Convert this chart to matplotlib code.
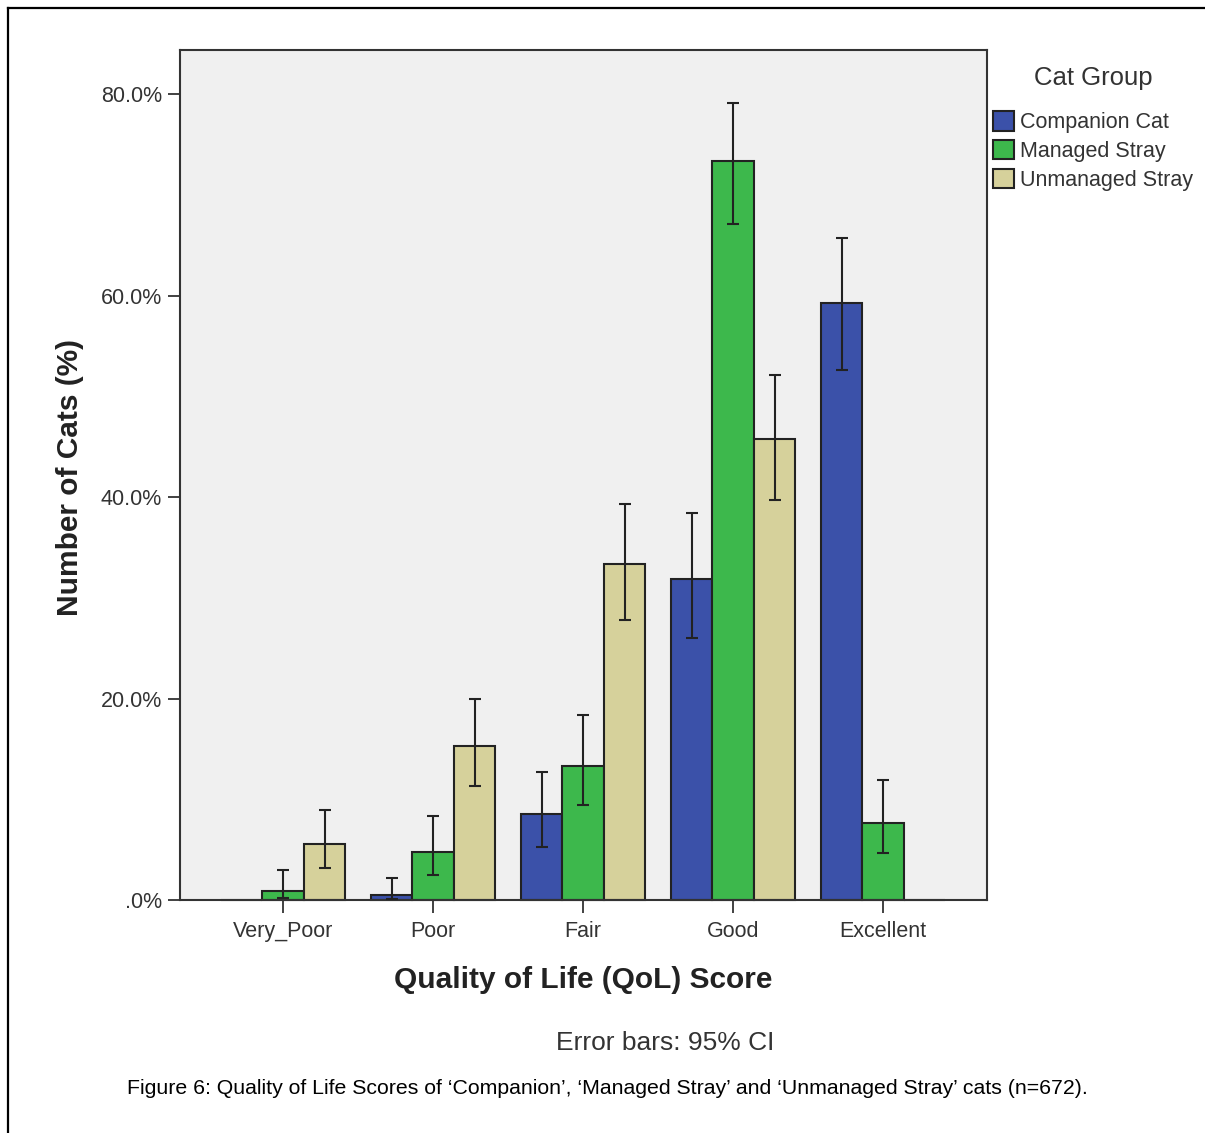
import numpy as np
import matplotlib
matplotlib.use('Agg')
import matplotlib.pyplot as plt
from matplotlib.lines import Line2D
from matplotlib.ticker import FuncFormatter

plt.rcParams['font.family'] = ['Liberation Sans', 'DejaVu Sans']

# data
categories = ['Very_Poor', 'Poor', 'Fair', 'Good', 'Excellent']
groups = ['Companion Cat', 'Managed Stray', 'Unmanaged Stray']

companion = [0.0, 0.5, 8.5, 31.9, 59.3]
companion_lo = [0.0, 0.1, 5.3, 26.0, 52.6]
companion_hi = [0.0, 2.2, 12.7, 38.4, 65.7]

managed = [0.9, 4.8, 13.3, 73.4, 7.6]
managed_lo = [0.2, 2.5, 9.4, 67.1, 4.7]
managed_hi = [3.0, 8.3, 18.4, 79.1, 11.9]

unmanaged = [5.6, 15.3, 33.4, 45.8, 0.0]
unmanaged_lo = [3.2, 11.3, 27.8, 39.7, 0.0]
unmanaged_hi = [8.9, 20.0, 39.3, 52.1, 0.0]

colors = ['#3B51A9', '#3DB84C', '#D6D19B']


def pct(v, pos):
    s = '{:.1f}%'.format(v)
    if s.startswith('0'):
        s = s[1:]
    return s


def main():
    W, H = 1205, 1133
    fig = plt.figure(figsize=(W / 100, H / 100), dpi=100)
    fig.patch.set_facecolor('white')

    # axes box in pixels: x 180..987, y 50..900
    ax = fig.add_axes([180 / W, 1 - 900 / H, 807 / W, 850 / H])
    ax.set_facecolor('#F0F0F0')

    x = np.arange(len(categories))
    w = 0.277
    series = [(companion, companion_lo, companion_hi),
              (managed, managed_lo, managed_hi),
              (unmanaged, unmanaged_lo, unmanaged_hi)]
    for i, (vals, lo, hi) in enumerate(series):
        xs = x + (i - 1) * w
        ax.bar(xs, vals, width=w, color=colors[i], edgecolor='#222222',
               linewidth=1.5, label=groups[i], zorder=2, clip_on=False)
        vals = np.array(vals)
        lo = np.array(lo)
        hi = np.array(hi)
        keep = hi > 0
        ax.errorbar(xs[keep], vals[keep],
                    yerr=[vals[keep] - lo[keep], hi[keep] - vals[keep]],
                    fmt='none', ecolor='#222222', elinewidth=1.5,
                    capsize=4, capthick=1.5, zorder=3)

    ax.set_xlim(-0.687, 4.693)
    ax.set_ylim(0, 84.4)
    ax.set_xticks(x)
    ax.set_xticklabels(categories)
    ax.set_yticks([0, 20, 40, 60, 80])
    ax.yaxis.set_major_formatter(FuncFormatter(pct))
    ax.tick_params(axis='both', labelsize=15.5, colors='#333333',
                   length=9, width=1.3, pad=4)
    ax.tick_params(axis='x', pad=6)
    for t in ax.get_xticklabels() + ax.get_yticklabels():
        t.set_color('#333333')
    for sp in ax.spines.values():
        sp.set_color('#333333')
        sp.set_linewidth(1.5)

    ax.set_xlabel('Quality of Life (QoL) Score', fontsize=21.5,
                  fontweight='bold', color='#222222')
    ax.xaxis.set_label_coords((583 - 180) / 807, (900 - 966) / 850)
    ax.set_ylabel('Number of Cats (%)', fontsize=21.5,
                  fontweight='bold', color='#222222')
    ax.yaxis.set_label_coords((84 - 180) / 807, (900 - 477) / 850)

    leg = ax.legend(loc='upper left', bbox_to_anchor=(989 / W, 1 - 107 / H),
                    bbox_transform=fig.transFigure, frameon=False,
                    fontsize=15.5, handlelength=0.95, handleheight=1.0,
                    handletextpad=0.3, labelspacing=0.32, borderpad=0.2,
                    borderaxespad=0)
    for t in leg.get_texts():
        t.set_color('#333333')
    fig.text(1093 / W, 1 - 78 / H, 'Cat Group', fontsize=18.5,
             color='#333333', ha='center', va='center')

    fig.text(665 / W, 1 - 1043 / H, 'Error bars: 95% CI', fontsize=19,
             color='#333333', ha='center', va='center')
    fig.text(607 / W, 1 - 1089 / H,
             'Figure 6: Quality of Life Scores of \u2018Companion\u2019, '
             '\u2018Managed Stray\u2019 and \u2018Unmanaged Stray\u2019 cats (n=672).',
             fontsize=15.3, color='black', ha='center', va='center')

    # outer frame (only left and top edges are visible)
    fig.add_artist(Line2D([8 / W, 8 / W], [0, 1 - 8 / H], color='black',
                          lw=1.6, transform=fig.transFigure))
    fig.add_artist(Line2D([8 / W, 1], [1 - 8 / H, 1 - 8 / H], color='black',
                          lw=1.6, transform=fig.transFigure))

    fig.savefig('out.png', dpi=100)
    plt.close(fig)


if __name__ == '__main__':
    main()
